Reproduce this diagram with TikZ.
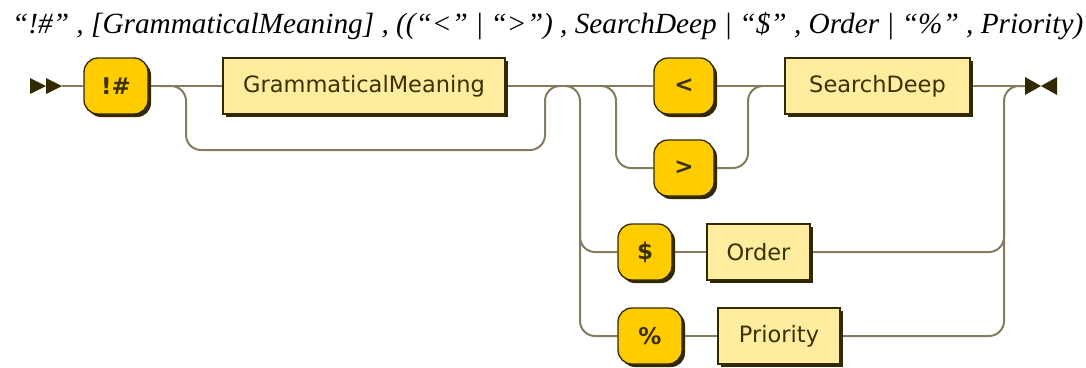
\documentclass[tikz,border=0pt]{standalone}
\usepackage{fontspec}
\setmainfont{Liberation Serif}
\newfontfamily\railfont{DejaVu Sans}
\usetikzlibrary{shadows,backgrounds}
\definecolor{railc}{HTML}{857C5F}
\definecolor{edgec}{HTML}{332900}
\definecolor{termc}{HTML}{FFCC00}
\definecolor{ntermc}{HTML}{FFEC9E}
\definecolor{txtc}{HTML}{3B3000}
\tikzset{
  rail/.style={draw=railc, line width=2pt, rounded corners=15pt},
  boxshadow/.style={drop shadow={shadow xshift=3pt, shadow yshift=-3pt, fill=edgec, opacity=1}},
  term/.style={boxshadow, draw=edgec, fill=termc, line width=1.3pt, rounded corners=14pt,
    minimum height=56pt, inner sep=0pt, text=txtc, font=\railfont\bfseries\fontsize{23}{27}\selectfont},
  nterm/.style={boxshadow, draw=edgec, fill=ntermc, line width=1.3pt,
    minimum height=56pt, inner sep=0pt, text=txtc, font=\railfont\fontsize{22.5}{26}\selectfont},
  railmark/.style={fill=edgec, draw=none}
}
\begin{document}
\begin{tikzpicture}[x=1pt, y=-1pt]
\useasboundingbox (0,0) rectangle (1086,367);

% heading: the rule in text form
\node[anchor=base west, inner sep=0pt] (title) at (12,33)
  {\resizebox{1071pt}{!}{\itshape\fontsize{27}{30}\selectfont “!\#” , [GrammaticalMeaning] , ((“<” | “>”) , SearchDeep | “\$” , Order | “\%” , Priority)}};

% terminals and nonterminals
\node[term, minimum width=64pt] (bang) at (116,86) {!\#};
\node[nterm, minimum width=282pt] (gm) at (364,86) {GrammaticalMeaning};
\node[term, minimum width=60pt] (lt) at (684,86) {<};
\node[term, minimum width=60pt] (gt) at (684,168) {>};
\node[nterm, minimum width=185pt] (sd) at (877.5,86) {SearchDeep};
\node[term, minimum width=54pt] (dollar) at (645,252) {\$};
\node[nterm, minimum width=103pt] (order) at (758.5,252) {Order};
\node[term, minimum width=64pt] (pct) at (650,336) {\%};
\node[nterm, minimum width=122pt] (prio) at (779,336) {Priority};

% junction points on the rails
\coordinate (startm) at (62,86);
\coordinate (byin) at (160,86);
\coordinate (byout) at (560,86);
\coordinate (forkin) at (565,86);
\coordinate (forkmid) at (580,200);
\coordinate (chin) at (601,86);
\coordinate (chout) at (763,86);
\coordinate (endm) at (1025,86);
\coordinate (joinmid) at (1004,200);

% rails
\begin{scope}[on background layer]
\draw[rail] (startm) -- (bang.west);
\draw[rail] (bang.east) -- (gm.west);
\draw[rail] (gm.east) -- (lt.west);
\draw[rail] (lt.east) -- (sd.west);
\draw[rail] (sd.east) -- (endm);
\draw[rail] (byin) -| (186,150) -| (545,86) -- (byout);
\draw[rail] (forkin) -| (580,336) -- (pct.west);
\draw[rail] (forkmid) |- (dollar.west);
\draw[rail] (chin) -| (616,168) -- (gt.west);
\draw[rail] (gt.east) -| (748,86) -- (chout);
\draw[rail] (dollar.east) -- (order.west);
\draw[rail] (pct.east) -- (prio.west);
\draw[rail] (order.east) -| (1004,86) -- (endm);
\draw[rail] (prio.east) -| (joinmid);
\end{scope}

% start and end markers
\fill[railmark] (30,78) -- (46,86) -- (30,94) -- cycle;
\fill[railmark] (46,78) -- (62,86) -- (46,94) -- cycle;
\fill[railmark] (1025,77) -- (1041,86) -- (1025,95) -- cycle;
\fill[railmark] (1057,77) -- (1041,86) -- (1057,95) -- cycle;
\end{tikzpicture}
\end{document}
